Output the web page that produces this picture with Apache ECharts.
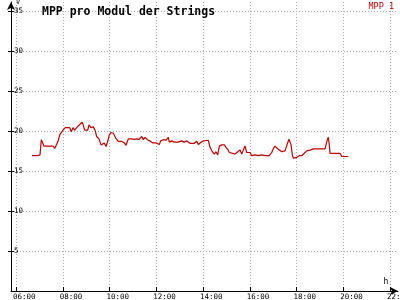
<!DOCTYPE html>
<html><head><meta charset="utf-8">
<script src="https://cdn.jsdelivr.net/npm/echarts@6/dist/echarts.min.js"></script>
<style>html,body{margin:0;padding:0;background:#fff}#c{width:400px;height:300px}</style>
</head><body><div id="c"></div>
<script>
var times = [6.684,6.898,6.963,7.027,7.082,7.125,7.198,7.583,7.656,7.711,7.797,7.870,8.011,8.109,8.297,8.366,8.439,8.511,8.622,8.725,8.836,8.879,8.939,9.067,9.123,9.209,9.307,9.380,9.452,9.551,9.636,9.709,9.777,9.850,9.923,9.991,10.064,10.163,10.265,10.376,10.522,10.633,10.706,10.804,10.877,10.949,11.061,11.164,11.262,11.305,11.378,11.446,11.519,11.617,11.733,11.848,11.989,12.130,12.190,12.302,12.417,12.515,12.558,12.661,12.772,12.943,13.089,13.187,13.303,13.444,13.628,13.730,13.799,13.872,13.970,14.116,14.227,14.257,14.300,14.398,14.483,14.556,14.629,14.697,14.800,14.911,14.984,15.056,15.125,15.198,15.270,15.369,15.484,15.583,15.655,15.724,15.797,15.869,15.938,16.011,16.083,16.225,16.366,16.511,16.652,16.836,16.939,17.008,17.080,17.179,17.264,17.367,17.435,17.508,17.606,17.679,17.722,17.765,17.820,17.863,18.008,18.120,18.222,18.291,18.436,18.578,18.719,19.219,19.292,19.318,19.360,19.403,19.433,19.861,19.934,20.216];
var mpp1 = [16.9,16.9,16.8,17.0,18.9,19.0,18.1,18.1,17.8,18.0,18.7,19.5,20.1,20.4,20.4,19.9,20.4,20.1,20.5,20.8,21.1,21.25,20.1,20.1,20.75,20.4,20.5,20.1,19.3,19.0,18.25,18.05,18.5,18.05,18.7,19.5,19.8,19.7,19.1,18.7,18.7,18.5,18.2,19.0,18.8,19.0,18.95,19.0,18.95,19.1,19.3,18.9,19.2,18.9,18.75,18.5,18.5,18.3,18.75,18.9,18.85,19.2,18.6,18.75,18.6,18.6,18.75,18.6,18.75,18.45,18.45,18.7,18.3,18.4,18.7,18.8,18.8,18.95,17.95,17.4,17.1,17.4,17.0,18.1,18.25,18.25,17.95,17.7,17.3,17.5,17.2,17.1,17.4,17.6,17.1,17.6,18.1,17.3,17.2,17.3,16.9,17.0,16.9,17.0,16.9,16.9,17.3,17.8,18.1,17.8,18.0,17.4,17.3,17.5,18.4,18.95,19.1,18.25,17.0,16.6,16.7,16.9,16.9,17.1,17.5,17.6,17.75,17.75,17.8,18.9,19.2,18.2,17.2,17.2,16.8,16.8];
var xTicks = [6,8,10,12,14,16,18,20,22];
var xTickLabels = ['06:00','08:00','10:00','12:00','14:00','16:00','18:00','20:00','22:00'];
var yTicks = [5,10,15,20,25,30,35];
var title = 'MPP pro Modul der Strings';
var seriesName = 'MPP 1';

var mono = 'DejaVu Sans Mono';
var labelShift = 0.13;
var xLabelPos = xTicks.map(function(t){return t - labelShift;});
var data = times.map(function(t,i){return [t, mpp1[i]];});

var chart = echarts.init(document.getElementById('c'), null, {renderer:'canvas'});
chart.setOption({
  animation:false,
  backgroundColor:'#fff',
  title:{text:title,left:37,top:1,textStyle:{fontFamily:mono,fontWeight:'bold',fontSize:11.5,color:'#000'}},
  legend:{data:[{name:seriesName,icon:'none'}],right:6,top:0,itemWidth:0,itemGap:0,padding:[0,0,0,0],
    textStyle:{fontFamily:mono,fontSize:8.5,color:'#c00000'}},
  grid:{left:11,right:2,top:2,bottom:9,containLabel:false,outerBoundsMode:'none'},
  xAxis:{type:'value',min:5.786,max:22.34,
    name:'h',nameLocation:'end',nameGap:-12,
    nameTextStyle:{fontFamily:mono,fontSize:8,color:'#000',align:'center',verticalAlign:'bottom',padding:[0,0,5,0]},
    axisLine:{show:true,symbol:['none','arrow'],symbolSize:[6,8],lineStyle:{color:'#000',width:1}},
    axisTick:{show:true,inside:true,length:4,customValues:xTicks,lineStyle:{color:'#000'}},
    axisLabel:{show:true,customValues:xLabelPos,align:'left',margin:2,fontFamily:mono,fontSize:7.5,color:'#000',hideOverlap:false,
      formatter:function(v){var i=xLabelPos.findIndex(function(p){return Math.abs(p-v)<1e-6;});return i>=0?xTickLabels[i]:'';}},
    splitLine:{show:true,lineStyle:{color:'#aaa',type:[1,2],width:1}}
  },
  yAxis:[{type:'value',min:0,max:36.1,
    name:'V',nameLocation:'end',nameGap:-4,
    nameTextStyle:{fontFamily:mono,fontSize:7,color:'#000',align:'left',verticalAlign:'bottom',padding:[0,0,0,5]},
    axisLine:{show:true,symbol:['none','arrow'],symbolSize:[6,8],lineStyle:{color:'#000',width:1}},
    axisTick:{show:true,inside:false,length:3,customValues:yTicks,lineStyle:{color:'#000'}},
    axisLabel:{show:true,inside:true,customValues:yTicks,margin:3,fontFamily:mono,fontSize:7.5,color:'#000'},
    splitLine:{show:true,lineStyle:{color:'#aaa',type:[1,2],width:1}}
  },{type:'value',min:0,max:36.1,position:'left',
    axisLine:{show:false},
    axisTick:{show:true,inside:true,length:3,customValues:yTicks,lineStyle:{color:'#000'}},
    axisLabel:{show:false},splitLine:{show:false}
  }],
  series:[{name:seriesName,type:'line',data:data,showSymbol:false,symbol:'none',
    lineStyle:{color:'#c00000',width:1.2},itemStyle:{color:'#c00000'}}]
});
</script></body></html>
